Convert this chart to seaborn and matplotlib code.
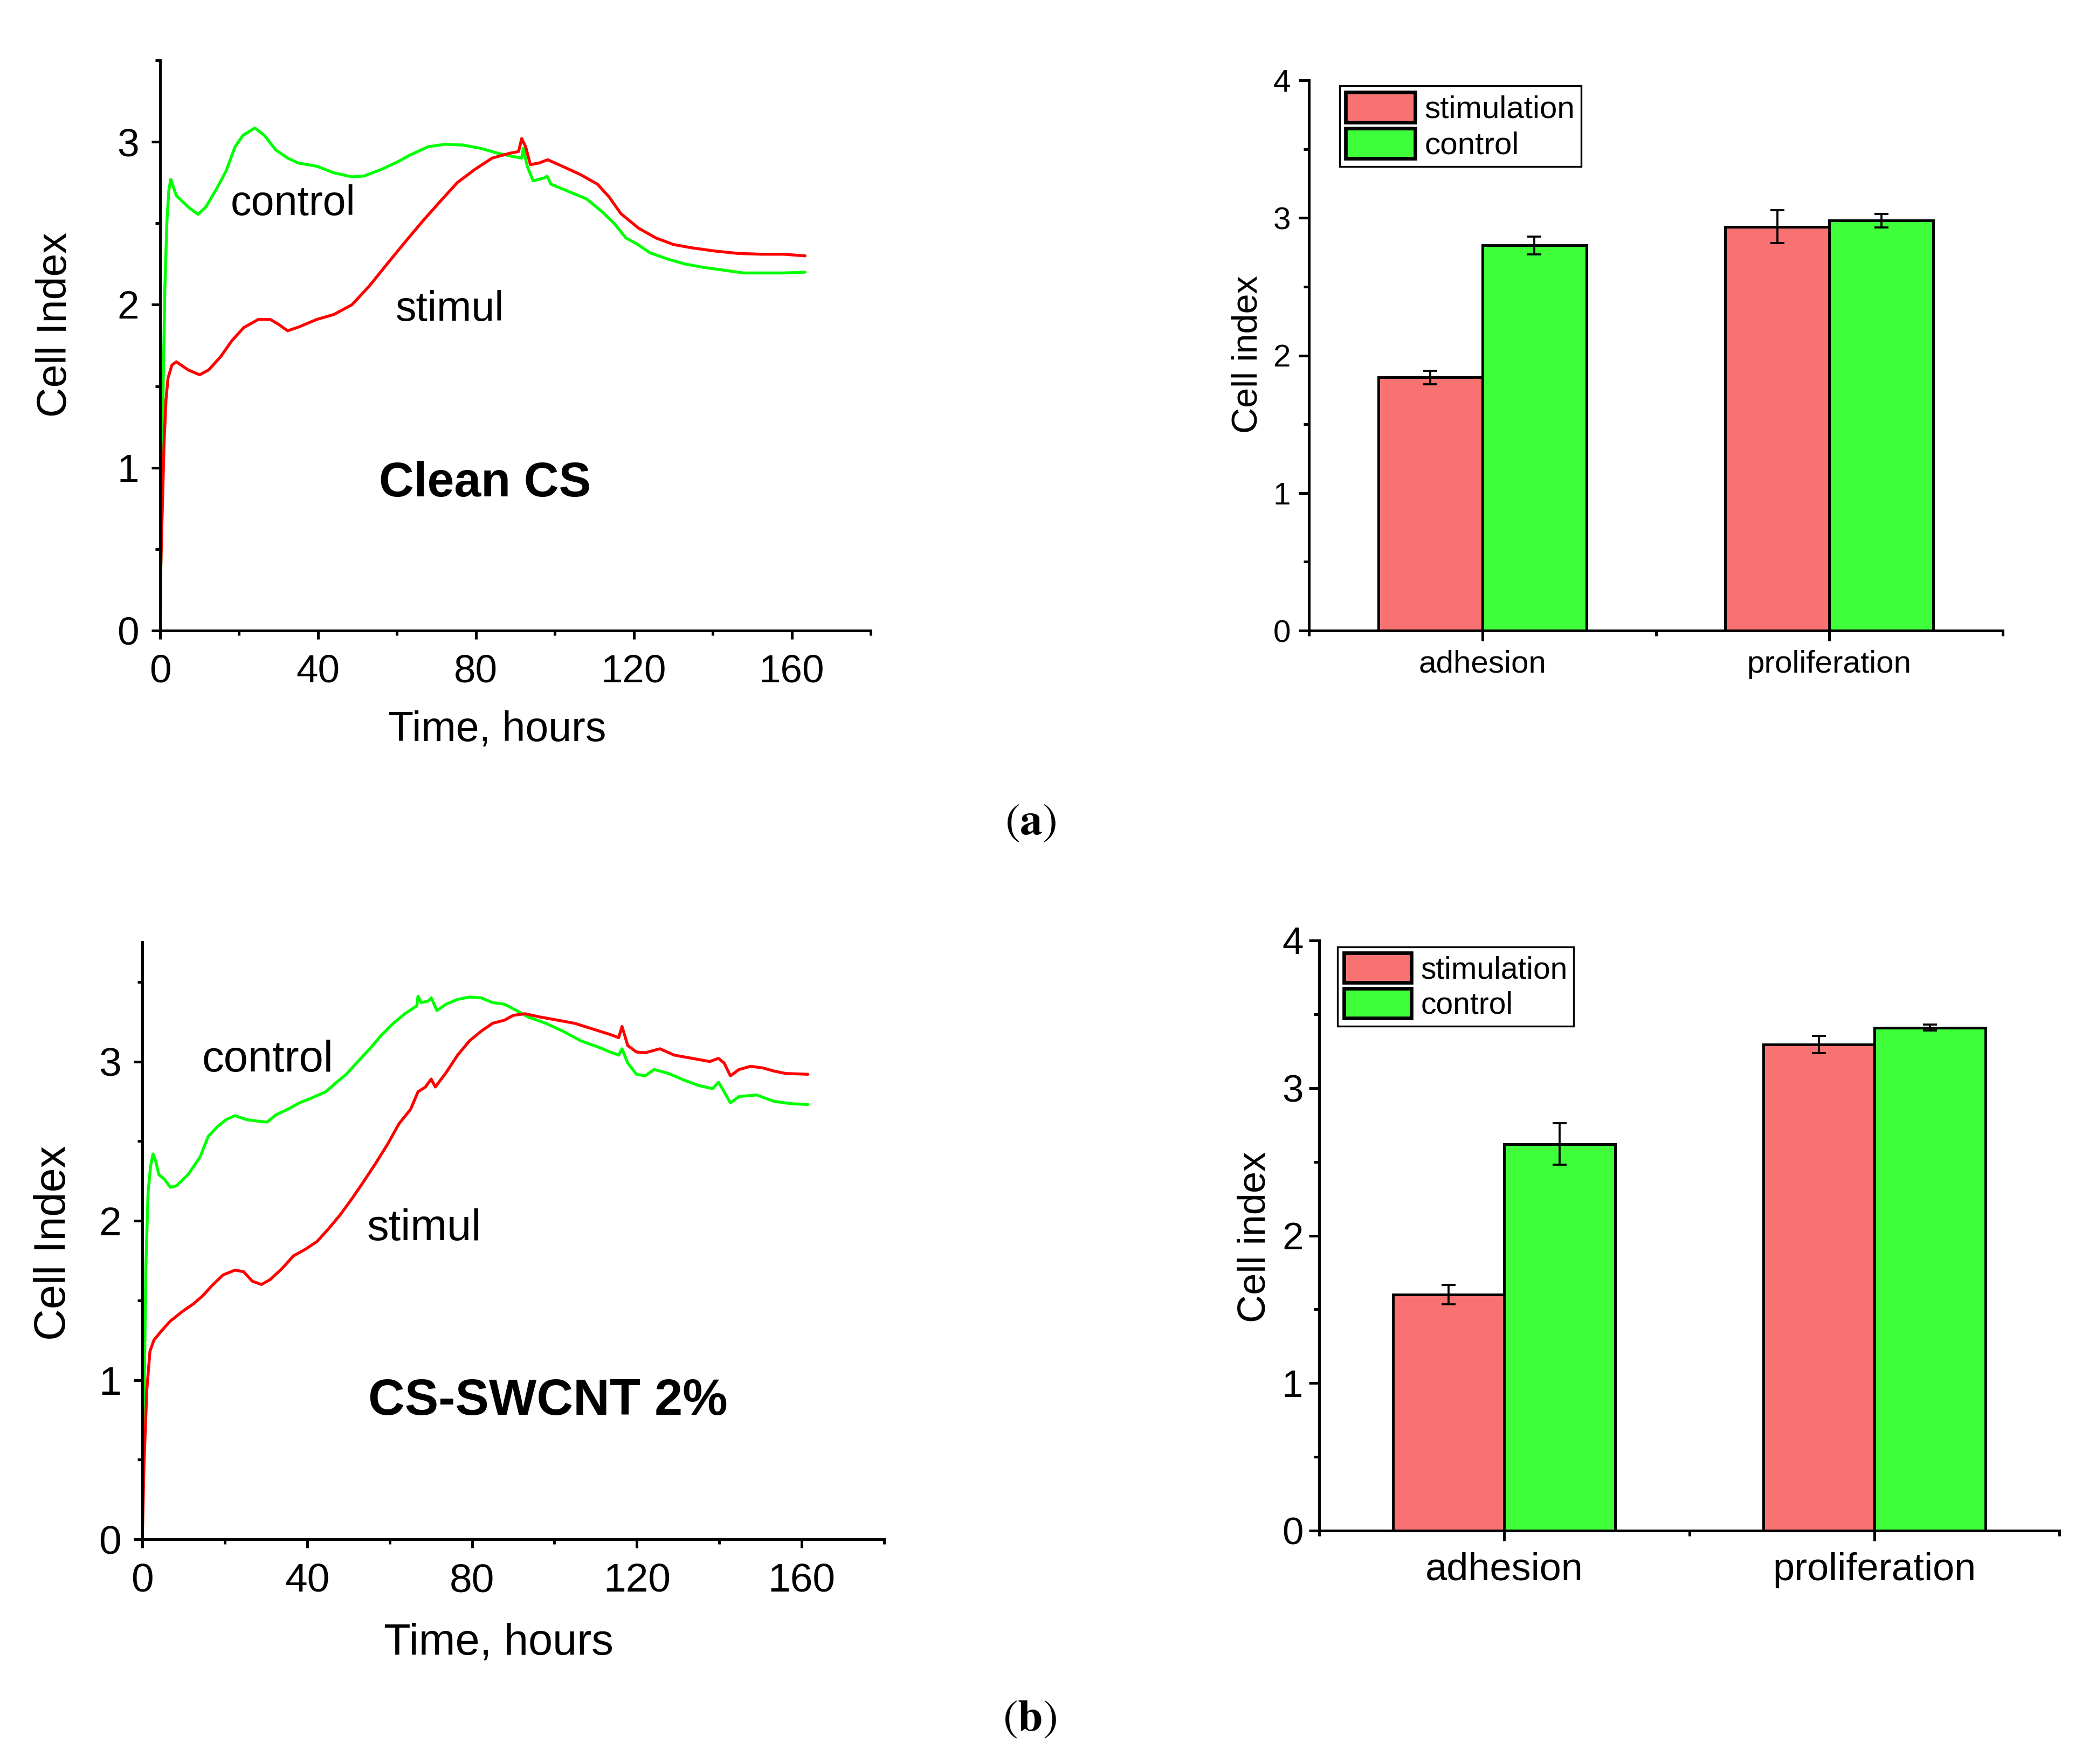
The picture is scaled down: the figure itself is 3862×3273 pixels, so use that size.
import matplotlib
matplotlib.use("Agg")
import matplotlib.pyplot as plt
from matplotlib.ticker import MultipleLocator, FixedLocator
import pandas as pd
import seaborn as sns

# ---------------- data ----------------
# (a) Clean CS, real-time cell index
t_a_ctrl = [0, 0.3, 0.7, 1.2, 1.7, 2.2, 2.7, 4.1, 7.1, 9.6, 11.6, 14.5, 16.7, 19, 21, 24,
            26.4, 29.3, 32.3, 35, 39.7, 44, 48.6, 51.6, 56, 60.4, 63.4, 67.9, 72.3, 76.7,
            81.2, 85.6, 89.3, 91.6, 92, 93, 94.5, 97.5, 98, 99, 103, 108, 112, 115, 118,
            121, 124, 128.6, 133, 137.5, 143.4, 147.9, 152.3, 158, 163.4]
ci_a_ctrl = [0, 0.6, 1.4, 2.1, 2.5, 2.7, 2.77, 2.67, 2.60, 2.555, 2.60, 2.72, 2.82, 2.97, 3.04, 3.085,
             3.04, 2.95, 2.90, 2.87, 2.85, 2.81, 2.785, 2.79, 2.83, 2.88, 2.92, 2.97, 2.985, 2.98,
             2.96, 2.93, 2.91, 2.90, 2.96, 2.85, 2.76, 2.78, 2.79, 2.74, 2.70, 2.65, 2.57, 2.50, 2.41,
             2.37, 2.32, 2.28, 2.25, 2.23, 2.21, 2.195, 2.195, 2.195, 2.20]

t_a_stim = [0, 0.15, 0.45, 1.0, 1.5, 2, 3, 4.1, 7.1, 10, 12.3, 15.3, 18.2, 21.2, 24.9, 27.9,
            30, 32.3, 35.3, 39.7, 44, 48.6, 53, 57.5, 61.9, 66.4, 70.8, 75.3, 79.7, 84.1,
            88.6, 90.8, 91.6, 92.6, 93.8, 96, 98.2, 101.9, 106.4, 110.8, 113.8, 116.7, 121.2,
            125.6, 130, 134.5, 140.4, 146.4, 152.3, 158, 163.4]
ci_a_stim = [0, 0.36, 0.65, 1.15, 1.42, 1.55, 1.63, 1.65, 1.60, 1.57, 1.60, 1.68, 1.78, 1.86, 1.91, 1.91,
             1.88, 1.84, 1.865, 1.91, 1.94, 2.00, 2.115, 2.25, 2.38, 2.51, 2.63, 2.75, 2.83, 2.90,
             2.93, 2.94, 3.02, 2.97, 2.86, 2.87, 2.89, 2.85, 2.80, 2.74, 2.66, 2.56, 2.47,
             2.41, 2.37, 2.35, 2.33, 2.315, 2.31, 2.31, 2.30]

# (b) CS-SWCNT 2 %, real-time cell index
t_b_ctrl = [0, 0.85, 1.4, 2, 2.6, 3.3, 4, 5.4, 6.8, 8.3, 11.1, 14, 16, 18.2, 20.3, 22.5, 25.3,
            28.2, 30.3, 32.4, 35.3, 38.1, 41, 44.5, 46.7, 49.5, 52.3, 55.2, 58, 60.9, 63.7,
            66.6, 66.9, 67.7, 69.4, 70.1, 71.5, 73.7, 76.5, 79.4, 82.2, 85, 87.9, 90.8, 93.6,
            97.9, 102.1, 106.4, 110.7, 113.5, 115.6, 116.4, 117.8, 119.9, 122, 124.2, 127.7,
            131.3, 134.9, 138.4, 139.8, 141.2, 142.7, 144.8, 149, 153.3, 157.5, 161.5]
ci_b_ctrl = [0, 1.71, 2.18, 2.34, 2.42, 2.37, 2.29, 2.26, 2.21, 2.22, 2.29, 2.40, 2.53, 2.59, 2.635, 2.66, 2.635,
             2.625, 2.62, 2.665, 2.70, 2.74, 2.77, 2.81, 2.86, 2.92, 3.00, 3.08, 3.165, 3.24, 3.30,
             3.35, 3.41, 3.37, 3.38, 3.40, 3.32, 3.36, 3.39, 3.405, 3.40, 3.37, 3.36, 3.32, 3.28,
             3.24, 3.19, 3.13, 3.09, 3.06, 3.04, 3.08, 2.99, 2.92, 2.91, 2.95, 2.925,
             2.885, 2.85, 2.83, 2.87, 2.81, 2.74, 2.78, 2.79, 2.75, 2.735, 2.73]

t_b_stim = [0, 0.4, 1.1, 1.85, 2.8, 4.7, 6.8, 9.7, 12.5, 14.7, 16.8, 19.6, 22.5, 24.6, 26.7,
            28.9, 31, 33.9, 36.7, 39.5, 42.4, 45.2, 48.1, 50.9, 53.8, 56.6, 59.5, 62.3, 65.1,
            66.9, 68.7, 70.1, 71.1, 73.7, 76.5, 79.4, 82.2, 85, 87.9, 90, 92.9, 96.4, 100.7,
            104.9, 109.2, 113.5, 115.6, 116.4, 117.8, 119.9, 122, 125.6, 129.1, 133.4, 137.7,
            139.8, 141.2, 142.7, 144.8, 147.6, 150.5, 153.3, 156.1, 161.5]
ci_b_stim = [0, 0.47, 0.94, 1.18, 1.25, 1.31, 1.37, 1.43, 1.48, 1.53, 1.59, 1.66, 1.69, 1.68, 1.62,
             1.60, 1.63, 1.70, 1.78, 1.82, 1.87, 1.95, 2.04, 2.14, 2.25, 2.36, 2.48, 2.61, 2.70,
             2.81, 2.84, 2.89, 2.84, 2.93, 3.04, 3.13, 3.19, 3.24, 3.26, 3.29, 3.30, 3.28, 3.26,
             3.24, 3.205, 3.17, 3.15, 3.22, 3.10, 3.06, 3.055, 3.08, 3.04, 3.02, 3.00,
             3.02, 2.99, 2.91, 2.95, 2.97, 2.96, 2.94, 2.925, 2.92]

# bar charts
stages = ["adhesion", "proliferation"]
groups = ["stimulation", "control"]
bar_a_stim = [1.84, 2.935]
bar_a_stim_err = [0.05, 0.12]
bar_a_ctrl = [2.80, 2.98]
bar_a_ctrl_err = [0.065, 0.05]
bar_b_stim = [1.60, 3.295]
bar_b_stim_err = [0.065, 0.06]
bar_b_ctrl = [2.62, 3.41]
bar_b_ctrl_err = [0.14, 0.02]

# ---------------- style ----------------
sns.set_style("ticks")
plt.rcParams['font.family'] = ['Liberation Sans', 'DejaVu Sans']
plt.rcParams['mathtext.fontset'] = 'stix'
for k in ("text.color", "axes.labelcolor", "xtick.color", "ytick.color", "axes.edgecolor"):
    plt.rcParams[k] = "black"

W, H = 3862, 3273
DPI = 300
fig = plt.figure(figsize=(W / DPI, H / DPI), dpi=DPI)


def box(l, r, t, b):
    return [l / W, 1 - b / H, (r - l) / W, (b - t) / H]


def style_axes(ax, lw=1.2):
    sns.despine(ax=ax)
    for s in ("left", "bottom"):
        ax.spines[s].set_linewidth(lw)
        ax.spines[s].set_color("black")


def curve_panel(rect, t_c, v_c, t_s, v_s, ymax, fs_tick, fs_lab, fs_ann, fs_title,
                title, ann, xlab_xy, ylab_xy):
    ax = fig.add_axes(rect)
    sns.lineplot(x=t_c, y=v_c, color="#00ff00", lw=1.3, sort=False, estimator=None, ax=ax)
    sns.lineplot(x=t_s, y=v_s, color="#ff0000", lw=1.3, sort=False, estimator=None, ax=ax)
    ax.set_xlim(0, 180)
    ax.set_ylim(0, ymax)
    ax.xaxis.set_major_locator(MultipleLocator(40))
    ax.xaxis.set_minor_locator(MultipleLocator(20))
    ax.yaxis.set_major_locator(MultipleLocator(1))
    ax.yaxis.set_minor_locator(MultipleLocator(0.5))
    style_axes(ax)
    ax.tick_params(which="major", direction="out", length=3.9, width=1.2,
                   labelsize=fs_tick, color="black", labelcolor="black")
    ax.tick_params(axis="x", which="major", pad=6.5)
    ax.tick_params(axis="y", which="major", pad=5.5)
    ax.tick_params(which="minor", direction="out", length=2.2, width=1.2, color="black")
    ax.set_xlabel("Time, hours", fontsize=fs_lab, color="black")
    ax.set_ylabel("Cell Index", fontsize=fs_lab, color="black")
    ax.xaxis.set_label_coords(*xlab_xy)
    ax.yaxis.set_label_coords(*ylab_xy)
    ax.xaxis.label.set_verticalalignment("center")
    ax.yaxis.label.set_verticalalignment("center")
    for (txt, x, y) in ann:
        ax.text(x, y, txt, fontsize=fs_ann, ha="left", va="center", color="black")
    ax.text(title[1], title[2], title[0], fontsize=fs_title, fontweight="bold",
            ha="left", va="center", color="black")
    return ax


def bar_panel(rect, stim, stim_err, ctrl, ctrl_err, fs_ytick, fs_xtick, fs_lab, fs_leg,
              leg_anchor, ylab_xy, xpad, ypad):
    ax = fig.add_axes(rect)
    df = pd.DataFrame({
        "stage": stages * 2,
        "value": stim + ctrl,
        "group": [groups[0]] * len(stages) + [groups[1]] * len(stages),
    })
    sns.barplot(data=df, x="stage", y="value", hue="group", hue_order=groups,
                palette=["#f97272", "#3eff3a"], saturation=1, width=0.6, gap=0,
                edgecolor="black", linewidth=1.2, errorbar=None, ax=ax)
    for cont, errs in zip(ax.containers, [stim_err, ctrl_err]):
        for bar, e in zip(cont, errs):
            ax.errorbar(bar.get_x() + bar.get_width() / 2, bar.get_height(), yerr=e,
                        fmt="none", ecolor="black", elinewidth=0.9, capsize=3.2,
                        capthick=0.9, zorder=5)
    ax.set_xlim(-0.5, 1.5)
    ax.set_ylim(0, 4)
    ax.xaxis.set_minor_locator(FixedLocator([-0.5, 0.5, 1.5]))
    ax.yaxis.set_major_locator(MultipleLocator(1))
    ax.yaxis.set_minor_locator(MultipleLocator(0.5))
    style_axes(ax)
    ax.tick_params(which="major", direction="out", length=4.6, width=1.2, color="black",
                   labelcolor="black")
    ax.tick_params(which="minor", direction="out", length=2.3, width=1.2, color="black")
    ax.tick_params(axis="y", labelsize=fs_ytick, pad=ypad)
    ax.tick_params(axis="x", labelsize=fs_xtick, pad=xpad)
    ax.set_xlabel("")
    ax.set_ylabel("Cell index", fontsize=fs_lab, color="black")
    ax.yaxis.set_label_coords(*ylab_xy)
    ax.yaxis.label.set_verticalalignment("center")
    handles, labels = ax.get_legend_handles_labels()
    leg = ax.legend(handles, labels, loc="upper left", bbox_to_anchor=leg_anchor,
                    borderaxespad=0, frameon=True, fancybox=False, framealpha=1,
                    edgecolor="black", fontsize=fs_leg, handlelength=2.2,
                    handleheight=1.1, labelspacing=0.12, borderpad=0.2,
                    handletextpad=0.3, labelcolor="black")
    leg.get_frame().set_linewidth(0.8)
    for h in leg.legend_handles:
        h.set_edgecolor("black")
        h.set_linewidth(1.6)
    return ax


# (a) left: Clean CS
curve_panel(box(297, 1615, 112, 1170), t_a_ctrl, ci_a_ctrl, t_a_stim, ci_a_stim, 3.5,
            17.5, 18.5, 18.5, 21.5, ("Clean CS", 55.4, 0.90),
            [("control", 17.8, 2.62), ("stimul", 59.7, 1.97)],
            (0.474, -0.1745), (-0.1476, 0.536))

# (a) right: bars
bar_panel(box(2428, 3715, 149, 1170), bar_a_stim, bar_a_stim_err, bar_a_ctrl, bar_a_ctrl_err,
          14, 14, 16, 14, (0.044, 0.99), (-0.0885, 0.502), 4, 3.6)

# (b) left: CS-SWCNT 2%
curve_panel(box(264, 1640, 1748, 2856), t_b_ctrl, ci_b_ctrl, t_b_stim, ci_b_stim, 3.75,
            18, 19.5, 19.5, 22.5, ("CS-SWCNT 2%", 54.8, 0.865),
            [("control", 14.4, 3.01), ("stimul", 54.5, 1.95)],
            (0.48, -0.1735), (-0.119, 0.496))

# (b) right: bars
bar_panel(box(2447, 3820, 1745, 2840), bar_b_stim, bar_b_stim_err, bar_b_ctrl, bar_b_ctrl_err,
          17, 17.3, 17.3, 13.7, (0.025, 0.989), (-0.087, 0.497), 5, 2.5)

# panel captions
fig.text(0.495, 0.5335, r"$(\mathbf{a})$", fontsize=20, ha="center", va="center")
fig.text(0.4946, 0.0254, r"$(\mathbf{b})$", fontsize=20, ha="center", va="center")

fig.savefig("out.png", dpi=DPI, facecolor="white")
